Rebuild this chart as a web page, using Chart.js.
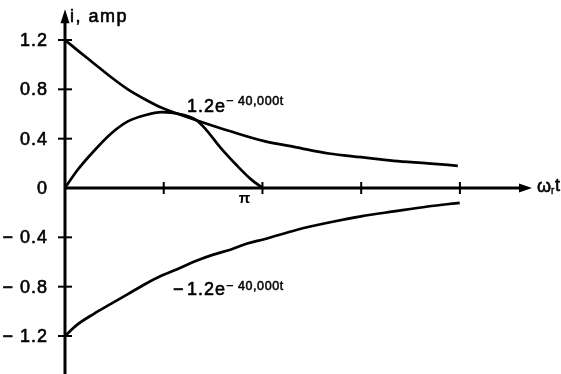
<!DOCTYPE html>
<html>
<head>
<meta charset="utf-8">
<script src="https://cdn.jsdelivr.net/npm/chart.js@4.4.0/dist/chart.umd.min.js"></script>
<style>
  html, body { margin: 0; padding: 0; background: #fff; }
  #wrap { width: 561px; height: 374px; }
</style>
</head>
<body>
<div id="wrap"><canvas id="currentChart" width="561" height="374"></canvas></div>
<script>
const PI = Math.PI;

// omega_r * t in radians, current in amps
const upperT = [0, 0.24, 0.46, 0.73, 1.00, 1.27, 1.54, 2.09, 2.63, 3.17, 3.68, 4.20, 4.71, 5.23, 5.77, 6.25];
const upperAmp = [1.2, 1.10, 1.01, 0.90, 0.80, 0.72, 0.65, 0.55, 0.46, 0.38, 0.33, 0.28, 0.25, 0.22, 0.20, 0.18];

const pulseT = [0, 0.19, 0.46, 0.73, 1.00, 1.27, 1.54, 1.82, 2.09, 2.25, 2.47, 2.74, 2.96, PI];
const pulseAmp = [0, 0.14, 0.30, 0.44, 0.54, 0.59, 0.615, 0.60, 0.55, 0.47, 0.33, 0.18, 0.07, 0];

const lowerT = [0, 0.19, 0.46, 0.73, 1.00, 1.27, 1.54, 1.82, 2.09, 2.36, 2.63, 2.90, 3.17, 3.68, 4.20, 4.71, 5.23, 5.77, 6.28];
const lowerAmp = [-1.2, -1.11, -1.02, -0.94, -0.86, -0.78, -0.71, -0.65, -0.59, -0.54, -0.50, -0.45, -0.415, -0.34, -0.28, -0.23, -0.19, -0.15, -0.12];

const xTicks = [PI / 2, PI, 3 * PI / 2, 2 * PI];
const xTickLabels = ['', 'π', '', ''];
const yTicks = [1.2, 0.8, 0.4, 0, -0.4, -0.8, -1.2];
const yTickLabels = ['1.2', '0.8', '0.4', '0', '\u2212 0.4', '\u2212 0.8', '\u2212 1.2'];

const X_MAX = 7.43;
const Y_TOP = 1.45;   // tip of the vertical arrow
const FONT = '"Liberation Sans", Arial, Helvetica, sans-serif';

function pts(xs, ys) {
  return xs.map((v, k) => ({ x: v, y: ys[k] }));
}

function curve(xs, ys) {
  return {
    data: pts(xs, ys),
    showLine: true,
    borderColor: '#000',
    borderWidth: 2.7,
    pointRadius: 0,
    cubicInterpolationMode: 'monotone',
    fill: false
  };
}

// slightly heavier text: fill plus a thin outline
function heavyText(ctx, str, px, py, weight) {
  ctx.lineWidth = weight;
  ctx.strokeText(str, px, py);
  ctx.fillText(str, px, py);
}

// text with a raised exponent right after it
function withExponent(ctx, base, exp, px, py, raise) {
  ctx.font = '18px ' + FONT;
  ctx.letterSpacing = '1px';
  ctx.textAlign = 'left';
  ctx.textBaseline = 'alphabetic';
  heavyText(ctx, base, px, py, 0.6);
  const w = ctx.measureText(base).width;
  ctx.font = '12.5px ' + FONT;
  ctx.letterSpacing = '0.6px';
  heavyText(ctx, exp, px + w, py - raise, 0.5);
}

const axesPlugin = {
  id: 'axesArrows',
  beforeDatasetsDraw(chart) {
    const { ctx, scales: { x, y } } = chart;
    const x0 = x.getPixelForValue(0);
    const y0 = y.getPixelForValue(0);
    const xEnd = x.getPixelForValue(X_MAX);
    const yTop = y.getPixelForValue(Y_TOP);

    ctx.save();
    ctx.strokeStyle = '#000';
    ctx.fillStyle = '#000';
    ctx.lineWidth = 3;

    // vertical axis runs past the bottom edge
    ctx.beginPath();
    ctx.moveTo(x0, chart.height);
    ctx.lineTo(x0, yTop + 10);
    ctx.stroke();
    ctx.beginPath();
    ctx.moveTo(x0, yTop);
    ctx.lineTo(x0 - 4.5, yTop + 14);
    ctx.lineTo(x0 + 4.5, yTop + 14);
    ctx.closePath();
    ctx.fill();

    // horizontal axis
    ctx.beginPath();
    ctx.moveTo(x0, y0);
    ctx.lineTo(xEnd - 10, y0);
    ctx.stroke();
    ctx.beginPath();
    ctx.moveTo(xEnd, y0);
    ctx.lineTo(xEnd - 13, y0 - 4.5);
    ctx.lineTo(xEnd - 13, y0 + 4.5);
    ctx.closePath();
    ctx.fill();

    // tick marks cross the axes
    ctx.lineWidth = 2;
    yTicks.forEach(v => {
      if (v === 0) return;
      const py = y.getPixelForValue(v);
      ctx.beginPath();
      ctx.moveTo(x0 - 7, py);
      ctx.lineTo(x0 + 7, py);
      ctx.stroke();
    });
    xTicks.forEach(v => {
      const px = x.getPixelForValue(v);
      ctx.beginPath();
      ctx.moveTo(px, y0 - 6);
      ctx.lineTo(px, y0 + 6);
      ctx.stroke();
    });
    ctx.restore();
  },
  afterDraw(chart) {
    const { ctx, scales: { x, y } } = chart;
    const x0 = x.getPixelForValue(0);
    const y0 = y.getPixelForValue(0);
    const xEnd = x.getPixelForValue(X_MAX);
    const yTop = y.getPixelForValue(Y_TOP);

    ctx.save();
    ctx.fillStyle = '#000';
    ctx.strokeStyle = '#000';
    ctx.lineJoin = 'round';

    // amplitude labels
    ctx.font = '18px ' + FONT;
    ctx.letterSpacing = '1px';
    ctx.textAlign = 'right';
    ctx.textBaseline = 'middle';
    yTicks.forEach((v, k) => {
      heavyText(ctx, yTickLabels[k], x0 - 17, y.getPixelForValue(v) + 1, 0.6);
    });

    // angle labels
    ctx.font = 'bold 15px ' + FONT;
    ctx.letterSpacing = '0px';
    ctx.textAlign = 'center';
    ctx.textBaseline = 'alphabetic';
    xTicks.forEach((v, k) => {
      if (xTickLabels[k]) ctx.fillText(xTickLabels[k], x.getPixelForValue(v) - 18, y0 + 15);
    });

    // axis titles
    ctx.font = '18px ' + FONT;
    ctx.letterSpacing = '1.5px';
    ctx.textAlign = 'left';
    heavyText(ctx, 'i, amp', x0 + 5, yTop + 13, 0.6);

    ctx.letterSpacing = '0px';
    ctx.font = '18px ' + FONT;
    heavyText(ctx, '\u03c9', xEnd + 5, y0 + 4, 0.6);
    const wOmega = ctx.measureText('\u03c9').width;
    ctx.font = '10px ' + FONT;
    heavyText(ctx, 'r', xEnd + 5 + wOmega, y0 + 6, 0.4);
    ctx.font = '18px ' + FONT;
    heavyText(ctx, 't', xEnd + 5 + wOmega + 4, y0 + 3, 0.6);

    // curve captions
    withExponent(ctx, '1.2e', '\u2212 40,000t', x.getPixelForValue(1.94), y.getPixelForValue(0.62), 7);
    ctx.font = '18px ' + FONT;
    ctx.letterSpacing = '1px';
    heavyText(ctx, '\u2212', x.getPixelForValue(1.72), y.getPixelForValue(-0.87), 0.6);
    withExponent(ctx, '1.2e', '\u2212 40,000t', x.getPixelForValue(1.94), y.getPixelForValue(-0.87), 5);

    ctx.restore();
  }
};

new Chart(document.getElementById('currentChart').getContext('2d'), {
  type: 'scatter',
  data: {
    datasets: [
      curve(upperT, upperAmp),
      curve(pulseT, pulseAmp),
      curve(lowerT, lowerAmp)
    ]
  },
  options: {
    responsive: false,
    animation: false,
    layout: {
      padding: { left: 65, right: 29, top: 3, bottom: 1 }
    },
    scales: {
      x: { type: 'linear', min: 0, max: X_MAX, display: false },
      y: { type: 'linear', min: -1.5, max: 1.5, display: false }
    },
    plugins: {
      legend: { display: false },
      tooltip: { enabled: false }
    }
  },
  plugins: [axesPlugin]
});
</script>
</body>
</html>
